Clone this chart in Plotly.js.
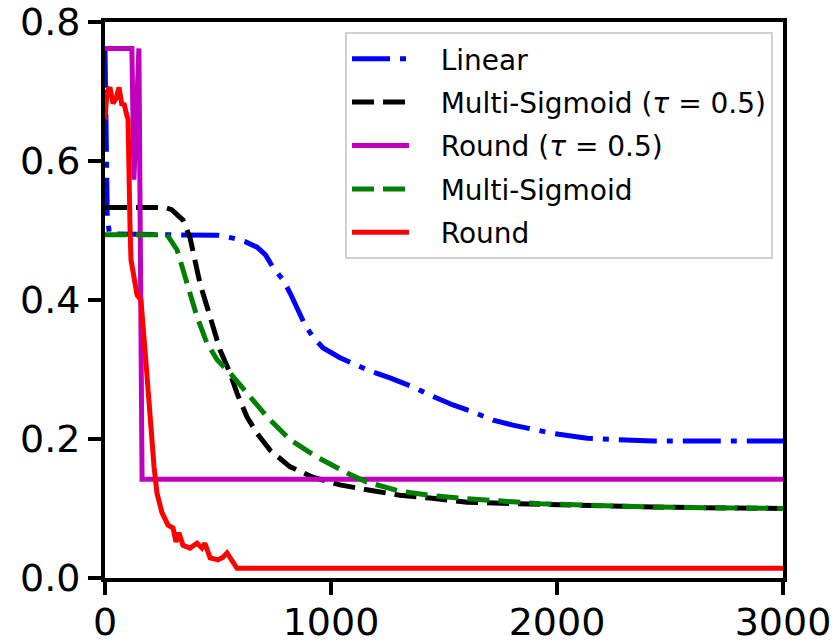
<!DOCTYPE html>
<html>
<head>
<meta charset="utf-8">
<script src="https://cdn.plot.ly/plotly-3.0.1.min.js"></script>
<style>html,body{margin:0;padding:0;background:#fff;}</style>
</head>
<body>
<div id="chart" style="width:838px;height:643px;"></div>
<script>
// Linear
const linearX = [0, 5, 10, 20, 300, 500, 566, 620, 673, 710, 743, 788, 819, 850, 885, 920, 965, 1040, 1097, 1164, 1261, 1363, 1438, 1540, 1628, 1717, 1805, 1925, 1982, 2133, 2265, 2425, 3000];
const linearY = [0.76, 0.60, 0.52, 0.495, 0.494, 0.493, 0.489, 0.484, 0.476, 0.465, 0.447, 0.429, 0.41, 0.39, 0.364, 0.347, 0.331, 0.317, 0.309, 0.299, 0.288, 0.275, 0.263, 0.249, 0.239, 0.227, 0.22, 0.212, 0.208, 0.201, 0.199, 0.197, 0.197];
// Multi-Sigmoid (tau = 0.5)
const msTauX = [0, 265, 295, 345, 376, 420, 465, 509, 553, 584, 628, 673, 730, 775, 819, 920, 1040, 1159, 1305, 1438, 1602, 1805, 1925, 2425, 3000];
const msTauY = [0.533, 0.533, 0.530, 0.515, 0.49, 0.424, 0.376, 0.328, 0.295, 0.266, 0.232, 0.208, 0.184, 0.171, 0.160, 0.145, 0.134, 0.127, 0.119, 0.115, 0.109, 0.107, 0.106, 0.102, 0.100];
// Round (tau = 0.5)
const roundTauX = [0, 119, 128, 150, 164, 3000];
const roundTauY = [0.762, 0.762, 0.573, 0.762, 0.142, 0.142];
// Multi-Sigmoid
const msX = [0, 274, 319, 363, 407, 451, 496, 553, 628, 717, 819, 938, 1071, 1159, 1305, 1438, 1602, 1805, 1925, 2425, 3000];
const msY = [0.494, 0.494, 0.472, 0.424, 0.376, 0.338, 0.314, 0.295, 0.266, 0.232, 0.199, 0.174, 0.151, 0.138, 0.125, 0.119, 0.114, 0.109, 0.107, 0.102, 0.100];
// Round
const roundX = [0, 9, 22, 35, 49, 62, 75, 84, 97, 102, 111, 115, 142, 159, 177, 199, 217, 230, 252, 279, 301, 314, 327, 345, 376, 407, 429, 442, 465, 500, 522, 540, 562, 584, 3000];
const roundY = [0.66, 0.70, 0.706, 0.683, 0.69, 0.706, 0.68, 0.683, 0.665, 0.66, 0.50, 0.458, 0.407, 0.40, 0.328, 0.232, 0.16, 0.122, 0.094, 0.076, 0.072, 0.052, 0.065, 0.047, 0.043, 0.05, 0.043, 0.05, 0.029, 0.026, 0.030, 0.036, 0.026, 0.014, 0.014];

const xTicks = [0, 1000, 2000, 3000];
const yTicks = [0.0, 0.2, 0.4, 0.6, 0.8];
const seriesNames = ['Linear', 'Multi-Sigmoid (<i>τ</i> = 0.5)', 'Round (<i>τ</i> = 0.5)', 'Multi-Sigmoid', 'Round'];

const pad = '\u00a0\u00a0\u00a0';
const W = 5;
const traces = [
  {x: linearX, y: linearY, name: pad + seriesNames[0], legendgroup: 'a',
   line: {color: '#0000ff', width: W, dash: '38px,10px,6px,10px'}},
  {x: msTauX, y: msTauY, name: pad + seriesNames[1], legendgroup: 'b',
   line: {color: '#000000', width: W, dash: '22px,9px'}},
  {x: roundTauX, y: roundTauY, name: pad + seriesNames[2], legendgroup: 'c',
   line: {color: '#bf00bf', width: W}},
  {x: msX, y: msY, name: pad + seriesNames[3], legendgroup: 'd',
   line: {color: '#008000', width: W, dash: '22px,9px'}},
  {x: roundX, y: roundY, name: pad + seriesNames[4], legendgroup: 'e',
   line: {color: '#ff0000', width: W}}
].map(t => Object.assign({type: 'scatter', mode: 'lines'}, t));

const axisCommon = {
  showline: true, mirror: true, linecolor: '#000', linewidth: 4,
  ticks: 'outside', ticklen: 13, tickwidth: 4, tickcolor: '#000',
  showgrid: false, zeroline: false,
  tickfont: {family: 'DejaVu Sans', size: 38, color: '#000'}
};

const layout = {
  width: 838, height: 643,
  margin: {l: 105, r: 55, t: 22, b: 65, pad: 0},
  paper_bgcolor: '#fff', plot_bgcolor: '#fff',
  font: {family: 'DejaVu Sans', color: '#000'},
  xaxis: Object.assign({}, axisCommon, {range: [0, 3000], tickvals: xTicks, ticktext: xTicks.map(String), ticklabelstandoff: -6}),
  yaxis: Object.assign({}, axisCommon, {range: [0, 0.8], tickvals: yTicks, ticktext: yTicks.map(v => v.toFixed(1))}),
  showlegend: true,
  legend: {
    x: 0.354, y: 0.982, xanchor: 'left', yanchor: 'top',
    bgcolor: '#ffffff', bordercolor: '#d0d0d0', borderwidth: 2,
    font: {family: 'DejaVu Sans', size: 28, color: '#000'},
    tracegroupgap: 4, itemwidth: 57
  }
};

Plotly.newPlot('chart', traces, layout, {staticPlot: true, displayModeBar: false});
</script>
</body>
</html>
